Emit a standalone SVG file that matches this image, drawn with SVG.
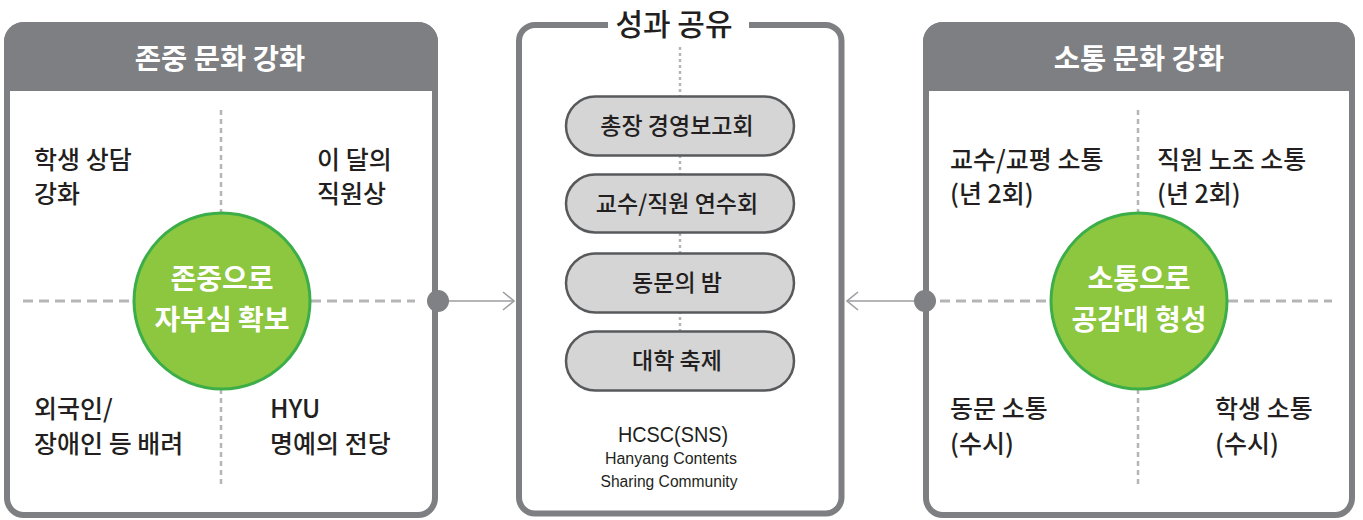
<svg xmlns="http://www.w3.org/2000/svg" width="1363" height="520" viewBox="0 0 1363 520">
<style>
.frame{fill:none;stroke:#7e7f82;stroke-width:6}
.head{fill:#7e7f82}
.htitle{font-family:"Noto Sans CJK KR","Noto Sans",sans-serif;font-size:28.5px;font-weight:bold;fill:#ffffff;text-anchor:middle}
.dash-v{stroke:#b5b5b5;stroke-width:2.5;stroke-dasharray:5 4;fill:none}
.dash-h{stroke:#b5b5b5;stroke-width:3;stroke-dasharray:10 6;fill:none}
.dot-v{stroke:#b5b5b5;stroke-width:2.5;stroke-dasharray:3 3;fill:none}
.circle{fill:#8dc63f;stroke:#3cae49;stroke-width:3}
.ctext{font-family:"Noto Sans CJK KR","Noto Sans",sans-serif;font-size:28px;font-weight:bold;fill:#ffffff;text-anchor:middle}
.item{font-family:"Noto Sans CJK KR","Noto Sans",sans-serif;font-size:25px;font-weight:500;fill:#231f20}
.pill{fill:#d5d5d6;stroke:#58595b;stroke-width:2.5}
.ptext{font-family:"Noto Sans CJK KR","Noto Sans",sans-serif;font-size:23px;font-weight:500;fill:#231f20;text-anchor:middle}
.mtitle{font-family:"Noto Sans CJK KR","Noto Sans",sans-serif;font-size:30px;font-weight:500;fill:#231f20;text-anchor:middle}
.en{font-family:"Liberation Sans",Arial,sans-serif;fill:#231f20;text-anchor:middle}
.conn{stroke:#9d9d9f;stroke-width:1.6;fill:none}
.node-dot{fill:#808184}
</style>

<g id="left-panel">
  <path class="head" d="M4,91 V42 A20,20 0 0 1 24,22 H418 A20,20 0 0 1 438,42 V91 Z"/>
  <rect class="frame" x="7" y="25" width="428" height="490" rx="17"/>
  <text class="htitle" x="220" y="69">존중 문화 강화</text>
  <line class="dash-v" x1="221" y1="110" x2="221" y2="486"/>
  <line class="dash-h" x1="23" y1="301" x2="415" y2="301"/>
  <circle class="circle" cx="222" cy="301" r="88"/>
  <text class="ctext" x="222" y="289">존중으로</text>
  <text class="ctext" x="222" y="330">자부심 확보</text>
  <text class="item" x="34" y="169">학생 상담</text>
  <text class="item" x="34" y="203">강화</text>
  <text class="item" x="317" y="169">이 달의</text>
  <text class="item" x="317" y="203">직원상</text>
  <text class="item" x="34" y="418">외국인/</text>
  <text class="item" x="34" y="453">장애인 등 배려</text>
  <text class="item" x="270" y="418">HYU</text>
  <text class="item" x="270" y="453">명예의 전당</text>
</g>

<g id="middle-panel">
  <path class="frame" d="M608,25 H535 A16,16 0 0 0 519,41 V497.5 A16,16 0 0 0 535,513.5 H825.5 A16,16 0 0 0 841.5,497.5 V41 A16,16 0 0 0 825.5,25 H749"/>
  <text class="mtitle" x="674" y="35">성과 공유</text>
  <line class="dot-v" x1="680" y1="47" x2="680" y2="332"/>
  <g id="pill-1">
    <rect class="pill" x="566" y="96.5" width="228" height="59" rx="29.5"/>
    <text class="ptext" x="677" y="134">총장 경영보고회</text>
  </g>
  <g id="pill-2">
    <rect class="pill" x="566" y="174.5" width="228" height="58" rx="29"/>
    <text class="ptext" x="677" y="212">교수/직원 연수회</text>
  </g>
  <g id="pill-3">
    <rect class="pill" x="566" y="253.5" width="228" height="59" rx="29.5"/>
    <text class="ptext" x="677" y="291">동문의 밤</text>
  </g>
  <g id="pill-4">
    <rect class="pill" x="566" y="331.5" width="228" height="59" rx="29.5"/>
    <text class="ptext" x="677" y="369">대학 축제</text>
  </g>
  <text class="en" x="673" y="442" font-size="22" textLength="110" lengthAdjust="spacingAndGlyphs">HCSC(SNS)</text>
  <text class="en" x="671" y="464" font-size="16" textLength="132" lengthAdjust="spacingAndGlyphs">Hanyang Contents</text>
  <text class="en" x="669" y="487" font-size="16" textLength="137" lengthAdjust="spacingAndGlyphs">Sharing Community</text>
</g>

<g id="right-panel">
  <path class="head" d="M923,91 V42 A20,20 0 0 1 943,22 H1335 A20,20 0 0 1 1355,42 V91 Z"/>
  <rect class="frame" x="926" y="25" width="426" height="490" rx="17"/>
  <text class="htitle" x="1139" y="69">소통 문화 강화</text>
  <line class="dash-v" x1="1138" y1="110" x2="1138" y2="486"/>
  <line class="dash-h" x1="940" y1="301" x2="1332" y2="301"/>
  <circle class="circle" cx="1139" cy="301" r="88"/>
  <text class="ctext" x="1139" y="289">소통으로</text>
  <text class="ctext" x="1139" y="330">공감대 형성</text>
  <text class="item" x="950" y="169">교수/교평 소통</text>
  <text class="item" x="950" y="203">(년 2회)</text>
  <text class="item" x="1157" y="169">직원 노조 소통</text>
  <text class="item" x="1157" y="203">(년 2회)</text>
  <text class="item" x="950" y="418">동문 소통</text>
  <text class="item" x="950" y="453">(수시)</text>
  <text class="item" x="1215" y="418">학생 소통</text>
  <text class="item" x="1215" y="453">(수시)</text>
</g>

<g id="connectors">
  <line class="conn" x1="438" y1="301" x2="514" y2="301"/>
  <polyline class="conn" points="503,292 514,301 503,310"/>
  <circle class="node-dot" cx="438" cy="301" r="11"/>
  <line class="conn" x1="925" y1="301" x2="847" y2="301"/>
  <polyline class="conn" points="858,292 847,301 858,310"/>
  <circle class="node-dot" cx="925" cy="301" r="11"/>
</g>
</svg>
